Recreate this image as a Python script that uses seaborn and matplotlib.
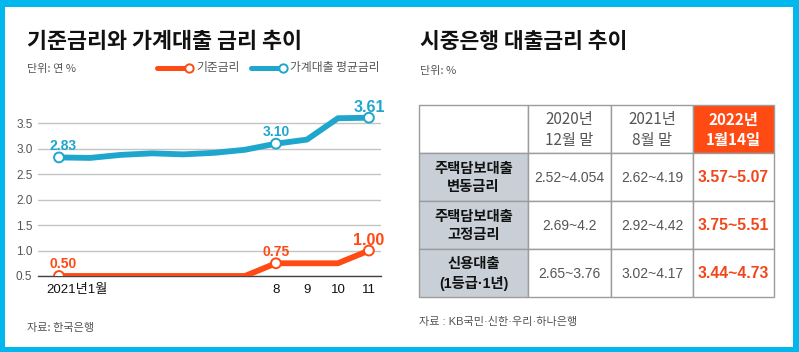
import numpy as np
import pandas as pd
import matplotlib
matplotlib.use("Agg")
import matplotlib.pyplot as plt
import seaborn as sns
from matplotlib.patches import Rectangle
from matplotlib.lines import Line2D
from matplotlib.transforms import ScaledTranslation

# ---- data: left chart (2021, monthly) ----
months = list(range(1, 12))
base_rate = [0.50, 0.50, 0.50, 0.50, 0.50, 0.50, 0.50, 0.75, 0.75, 0.75, 1.00]
household_rate = [2.83, 2.82, 2.88, 2.91, 2.89, 2.92, 2.98, 3.10, 3.18, 3.60, 3.61]
labeled_months = [1, 8, 11]
xtick_labels = {1: "2021년1월", 8: "8", 9: "9", 10: "10", 11: "11"}
series_names = ["기준금리", "가계대출 평균금리"]

# ---- data: right table ----
col_headers = ["", "2020년\n12월 말", "2021년\n8월 말", "2022년\n1월14일"]
row_headers = ["주택담보대출\n변동금리", "주택담보대출\n고정금리", "신용대출\n(1등급·1년)"]
table_values = [
    ["2.52~4.054", "2.62~4.19", "3.57~5.07"],
    ["2.69~4.2", "2.92~4.42", "3.75~5.51"],
    ["2.65~3.76", "3.02~4.17", "3.44~4.73"],
]

ORANGE = "#ff4a14"
BLUE = "#1ea6cc"
FRAME = "#00b8ee"
GREY_TXT = "#555555"

sns.set_theme(style="white")
plt.rcParams["font.family"] = ["Liberation Sans", "Noto Sans CJK KR", "DejaVu Sans"]
KR = ["Noto Sans CJK KR", "DejaVu Sans"]

W, H = 799, 352
fig = plt.figure(figsize=(W / 100, H / 100), dpi=100, facecolor=FRAME)
fig.add_artist(Rectangle((5 / W, 5 / H), (793 - 5) / W, (346 - 6) / H,
                         transform=fig.transFigure, facecolor="white",
                         edgecolor="none", zorder=-5))


def fx(px):
    return px / W


def fy(py):
    return 1 - py / H


# ---- left panel ----
df = pd.DataFrame({
    "month": months * 2,
    "rate": base_rate + household_rate,
    "series": [series_names[0]] * len(months) + [series_names[1]] * len(months),
})
palette = {series_names[0]: ORANGE, series_names[1]: BLUE}

ax = fig.add_axes([fx(38), fy(276), fx(381 - 38), (276 - 105) / H])
ax.set_facecolor("none")
sns.lineplot(data=df, x="month", y="rate", hue="series", palette=palette,
             linewidth=4.2, legend=False, ax=ax, solid_capstyle="butt",
             solid_joinstyle="round", zorder=3)
pts = df[df["month"].isin(labeled_months)]
sns.scatterplot(data=pts, x="month", y="rate", hue="series", palette=palette,
                s=50, linewidth=1.4, legend=False, ax=ax, zorder=4)
# open circles: white fill, coloured edge
for coll in ax.collections:
    ec = coll.get_facecolors()
    coll.set_edgecolors(ec)
    coll.set_facecolors("white")

ax.set_xlim(0.323, 11.39)
ax.set_ylim(0.5, 3.86)
ax.set_yticks([0.5, 1.0, 1.5, 2.0, 2.5, 3.0, 3.5])
ax.set_yticklabels(["0.5", "1.0", "1.5", "2.0", "2.5", "3.0", "3.5"])
ax.set_xticks(months)
ax.set_xticklabels([xtick_labels.get(m, "") for m in months])
ax.grid(axis="y", color="#c4c4c4", linewidth=1.0)
ax.grid(axis="x", visible=False)
for s in ["left", "right", "top"]:
    ax.spines[s].set_visible(False)
ax.spines["bottom"].set_color("#444444")
ax.spines["bottom"].set_linewidth(1.0)
ax.tick_params(axis="y", length=0, pad=4, labelsize=8.5, labelcolor=GREY_TXT)
ax.tick_params(axis="x", direction="in", length=4, width=1, color="#555555",
               pad=6, labelsize=9.5, labelcolor="#111111")
ax.set_xlabel("")
ax.set_ylabel("")
first = ax.get_xticklabels()[0]
first.set_horizontalalignment("left")
first.set_transform(first.get_transform() + ScaledTranslation(-13 / 100, 0, fig.dpi_scale_trans))

for name, vals, col in [(series_names[0], base_rate, ORANGE),
                        (series_names[1], household_rate, BLUE)]:
    for m in labeled_months:
        v = vals[m - 1]
        big = m == labeled_months[-1]
        ax.annotate(f"{v:.2f}", (m, v), xytext=(3 if m == 1 else 0, 4.3 if big else 5.5),
                    textcoords="offset points", ha="center", va="baseline",
                    color=col, fontsize=11.5 if big else 10, fontweight="bold",
                    zorder=5)

fig.text(fx(27), fy(42), "기준금리와 가계대출 금리 추이", fontsize=15.7,
         fontweight="bold", color="#111111", va="center", ha="left", family=KR)
fig.text(fx(27), fy(69), "단위: 연 %", fontsize=8, color=GREY_TXT, va="center", family=KR)
fig.text(fx(27), fy(328), "자료: 한국은행", fontsize=8, color=GREY_TXT, va="center", family=KR)

# legend (drawn by hand to put the open circle at the line end)
for x0, col, label in [(157, ORANGE, series_names[0]), (251, BLUE, series_names[1])]:
    fig.add_artist(Line2D([fx(x0), fx(x0 + 32)], [fy(68), fy(68)], color=col,
                          linewidth=3.6, transform=fig.transFigure,
                          solid_capstyle="round"))
    fig.add_artist(Line2D([fx(x0 + 32)], [fy(68)], marker="o", markersize=6,
                          markerfacecolor="white", markeredgecolor=col,
                          markeredgewidth=1.4, transform=fig.transFigure))
    fig.text(fx(x0 + 39), fy(68), label, fontsize=8.5, color=GREY_TXT, va="center",
             family=KR)

# ---- right panel (table) ----
fig.text(fx(420), fy(42), "시중은행 대출금리 추이", fontsize=15.5,
         fontweight="bold", color="#111111", va="center", ha="left", family=KR)
fig.text(fx(420), fy(71), "단위: %", fontsize=8, color=GREY_TXT, va="center", family=KR)
fig.text(fx(419), fy(322), "자료 : KB국민·신한·우리·하나은행", fontsize=8,
         color=GREY_TXT, va="center")

col_w = [109, 83, 82, 81]
row_h = [48, 48, 48, 48]
xs = np.concatenate([[0], np.cumsum(col_w)])
ys = np.concatenate([[0], np.cumsum(row_h)])

tax = fig.add_axes([fx(419), fy(297), fx(xs[-1]), ys[-1] / H])
tax.set_xlim(0, xs[-1])
tax.set_ylim(ys[-1], 0)
tax.axis("off")

n_rows = len(row_headers) + 1
n_cols = len(col_headers)
for r in range(n_rows):
    for c in range(n_cols):
        x, y, w, h = xs[c], ys[r], col_w[c], row_h[r]
        fam = None
        ls = 1.3
        if r == 0:
            txt = col_headers[c]
            fam = KR
            if c == n_cols - 1:
                fc, tc, fw, fs = ORANGE, "white", "bold", 11
            else:
                fc, tc, fw, fs = "white", GREY_TXT, "medium", 11
        elif c == 0:
            txt = row_headers[r - 1]
            ls = 1.45
            fc, tc, fw, fs = "#c8cfd7", "#111111", "bold", 10.3
        else:
            txt = table_values[r - 1][c - 1]
            if c == n_cols - 1:
                fc, tc, fw, fs = "white", "#f2461a", "bold", 11.3
            else:
                fc, tc, fw, fs = "white", GREY_TXT, "normal", 10
        tax.add_patch(Rectangle((x, y), w, h, facecolor=fc, edgecolor="#9c9c9c",
                                linewidth=1.0, clip_on=False))
        kw = {"family": fam} if fam else {}
        tax.text(x + w / 2, y + h / 2 + 1, txt, ha="center", va="center",
                 color=tc, fontweight=fw, fontsize=fs, linespacing=ls, **kw)

fig.savefig("out.png", dpi=100, facecolor=FRAME)
